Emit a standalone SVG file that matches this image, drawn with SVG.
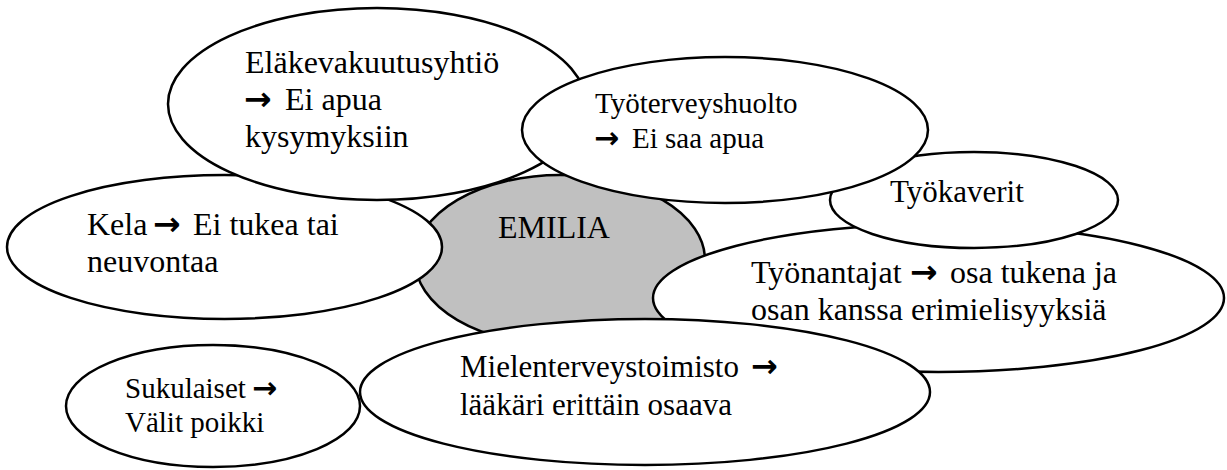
<svg xmlns="http://www.w3.org/2000/svg" width="1227" height="470" viewBox="0 0 1227 470">
<style>
.e{fill:#fff;stroke:#000;stroke-width:2.5}
.c{fill:#c0c0c0;stroke:#000;stroke-width:2.5}
text{font-family:"Liberation Serif","Times New Roman",serif;fill:#000}
.f32{font-size:32px}
.f31{font-size:31px}
.f29{font-size:29px}
.ar{font-family:"DejaVu Sans",sans-serif;font-weight:bold}
</style>
<rect width="1227" height="470" fill="#fff"/>
<g id="connectors"></g>
<g font-family="Liberation Serif, serif">
<g id="emilia">
<ellipse class="c" cx="560" cy="260" rx="145" ry="85"/>
<text class="f32" x="498" y="238">EMILIA</text>
</g>
<g id="kela">
<ellipse class="e" cx="224.5" cy="247" rx="217.5" ry="72"/>
<text class="f32" y="235"><tspan x="87">Kela</tspan><tspan class="ar" x="153" font-size="33">→</tspan><tspan x="193">Ei tukea tai</tspan></text>
<text class="f32" x="87" y="272">neuvontaa</text>
</g>
<g id="elakevakuutusyhtio">
<ellipse class="e" cx="377" cy="104" rx="209" ry="96"/>
<text class="f32" x="245" y="73">Eläkevakuutusyhtiö</text>
<text class="f32" y="110"><tspan class="ar" x="244" font-size="33">→</tspan><tspan x="285">Ei apua</tspan></text>
<text class="f32" x="245" y="147">kysymyksiin</text>
</g>
<g id="tyonantajat">
<ellipse class="e" cx="938.5" cy="298" rx="285.5" ry="74"/>
<text class="f32" y="283"><tspan x="751">Työnantajat</tspan><tspan class="ar" x="910" font-size="33">→</tspan><tspan x="950">osa tukena ja</tspan></text>
<text class="f32" x="751" y="320">osan kanssa erimielisyyksiä</text>
</g>
<g id="tyokaverit">
<ellipse class="e" cx="974" cy="200" rx="144" ry="48"/>
<text class="f31" x="890" y="202">Työkaverit</text>
</g>
<g id="tyoterveyshuolto">
<ellipse class="e" cx="725" cy="130" rx="203" ry="73"/>
<text class="f29" x="595" y="113">Työterveyshuolto</text>
<text class="f29" y="148"><tspan class="ar" x="594" font-size="30">→</tspan><tspan x="632">Ei saa apua</tspan></text>
</g>
<g id="mielenterveystoimisto">
<ellipse class="e" cx="645" cy="392" rx="285" ry="73"/>
<text class="f31" y="377"><tspan x="460">Mielenterveystoimisto</tspan><tspan class="ar" x="751" font-size="32">→</tspan></text>
<text class="f31" x="460" y="415">lääkäri erittäin osaava</text>
</g>
<g id="sukulaiset">
<ellipse class="e" cx="213" cy="406" rx="147" ry="61"/>
<text class="f29" y="398"><tspan x="125">Sukulaiset</tspan><tspan class="ar" x="252" font-size="30">→</tspan></text>
<text class="f29" x="125" y="432">Välit poikki</text>
</g>
</g>
</svg>
